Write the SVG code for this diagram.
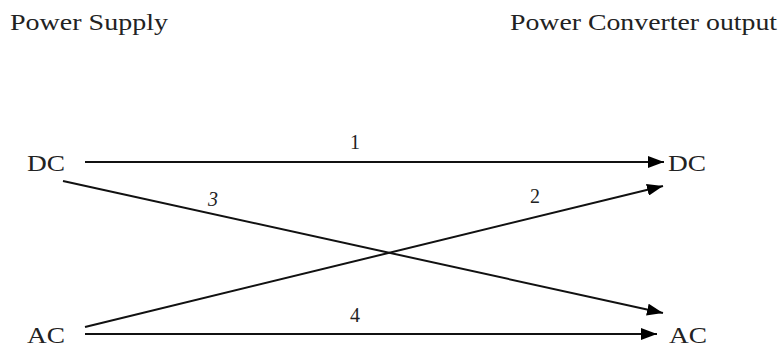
<svg xmlns="http://www.w3.org/2000/svg" width="782" height="351" viewBox="0 0 782 351">
<defs>
<marker id="ah" markerWidth="16" markerHeight="12" refX="16" refY="6" orient="auto" markerUnits="userSpaceOnUse">
<path d="M0,0 L16,6 L0,12 Z" fill="#000"/>
</marker>
<style>
text{font-family:"Liberation Serif","Times New Roman",serif;fill:#222;}
.h{font-size:23px;}
.n{font-size:24px;}
.l{font-size:20px;}
.c{stroke:#111;stroke-width:2;fill:none;marker-end:url(#ah);}
</style>
</defs>
<rect width="782" height="351" fill="#fff"/>
<text class="h" x="10" y="30" textLength="158" lengthAdjust="spacingAndGlyphs">Power Supply</text>
<text class="h" x="510" y="30" textLength="267" lengthAdjust="spacingAndGlyphs">Power Converter output</text>
<g id="src-dc"><text class="n" x="27" y="171" textLength="38" lengthAdjust="spacingAndGlyphs">DC</text></g>
<g id="src-ac"><text class="n" x="27" y="343" textLength="38" lengthAdjust="spacingAndGlyphs">AC</text></g>
<g id="out-dc"><text class="n" x="668" y="171" textLength="38" lengthAdjust="spacingAndGlyphs">DC</text></g>
<g id="out-ac"><text class="n" x="669" y="343" textLength="38" lengthAdjust="spacingAndGlyphs">AC</text></g>
<g id="connectors">
<line class="c" x1="85" y1="162" x2="664" y2="162"/>
<line class="c" x1="85" y1="327" x2="663" y2="186"/>
<line class="c" x1="63" y1="181" x2="663" y2="313"/>
<line class="c" x1="85" y1="334" x2="657" y2="334"/>
<text class="l" x="350" y="149">1</text>
<text class="l" x="530" y="203">2</text>
<text class="l" x="208" y="206" font-style="italic">3</text>
<text class="l" x="350" y="322">4</text>
</g>
</svg>
